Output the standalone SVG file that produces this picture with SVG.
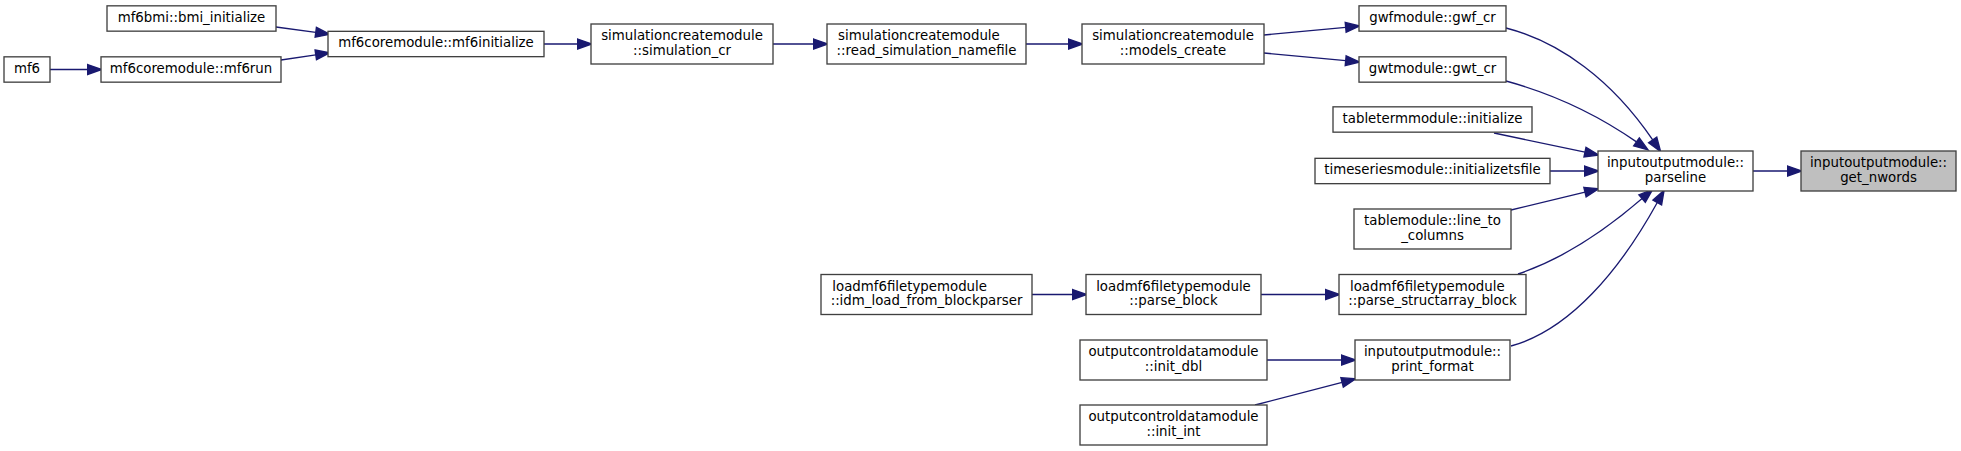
<svg xmlns="http://www.w3.org/2000/svg" width="1961" height="451" viewBox="0 0 1961 451">
<style>
.n rect{fill:#ffffff;stroke:#404040;stroke-width:1.33}
.n.hl rect{fill:#bfbfbf}
.n text{font-family:"DejaVu Sans",sans-serif;font-size:13.33px;fill:#000000}
.m{text-anchor:middle}
.s{text-anchor:start}
.e path{fill:none;stroke:#191970;stroke-width:1.33;marker-end:url(#ah)}
</style>
<defs>
<marker id="ah" markerUnits="userSpaceOnUse" markerWidth="14" markerHeight="10" refX="0" refY="4.67" orient="auto" viewBox="0 0 13.33 9.33" overflow="visible">
<path d="M0,0 L13.33,4.67 L0,9.33 z" fill="#191970" stroke="#191970" stroke-width="1.33"/>
</marker>
</defs>
<rect width="1961" height="451" fill="#ffffff"/>
<g id="edges" class="e">
<path d="M50,69.5 L87.7,69.5"/>
<path d="M276,27 L315.8,32.3"/>
<path d="M281,60 L315.8,54.9"/>
<path d="M544,44 L577.7,44"/>
<path d="M773,44 L813.7,44"/>
<path d="M1026,44 L1068.7,44"/>
<path d="M1264,35 L1345.7,27.3"/>
<path d="M1264,53 L1345.7,60.7"/>
<path d="M1506,28 C1560,42 1612,80 1652.7,139.9"/>
<path d="M1506,81 C1550,93 1595,113 1636.5,141.9"/>
<path d="M1494,133 L1585,152.2"/>
<path d="M1550,171 L1584.7,171"/>
<path d="M1511,210 L1585,192.1"/>
<path d="M1518,274 C1560,260 1600,235 1642.1,198.6"/>
<path d="M1511,346 C1570,330 1620,270 1657.3,202.5"/>
<path d="M1753,171 L1787.7,171"/>
<path d="M1032,294.5 L1072.7,294.5"/>
<path d="M1261,294.5 L1325.7,294.5"/>
<path d="M1267,360 L1341.7,360"/>
<path d="M1255,405 L1342.1,382.4"/>
</g>
<g id="node_mf6" class="n"><rect x="4" y="56.83" width="46" height="25.33"/><text class="m" x="27" y="72.8">mf6</text></g>
<g id="node_bmi_initialize" class="n"><rect x="107" y="5.83" width="169" height="25.33"/><text class="m" x="191.5" y="21.8">mf6bmi::bmi_initialize</text></g>
<g id="node_mf6run" class="n"><rect x="101" y="56.83" width="180" height="25.33"/><text class="m" x="191" y="72.8">mf6coremodule::mf6run</text></g>
<g id="node_mf6initialize" class="n"><rect x="328" y="31.33" width="216" height="25.33"/><text class="m" x="436" y="47.3">mf6coremodule::mf6initialize</text></g>
<g id="node_simulation_cr" class="n"><rect x="591" y="24" width="182" height="40"/><text class="m" x="682" y="40">simulationcreatemodule</text><text class="m" x="682" y="54.67">::simulation_cr</text></g>
<g id="node_read_simulation_namefile" class="n"><rect x="827" y="24" width="199" height="40"/><text class="s" x="838" y="40">simulationcreatemodule</text><text class="m" x="926.5" y="54.67">::read_simulation_namefile</text></g>
<g id="node_models_create" class="n"><rect x="1082" y="24" width="182" height="40"/><text class="m" x="1173" y="40">simulationcreatemodule</text><text class="m" x="1173" y="54.67">::models_create</text></g>
<g id="node_gwf_cr" class="n"><rect x="1359" y="5.83" width="147" height="25.33"/><text class="m" x="1432.5" y="21.8">gwfmodule::gwf_cr</text></g>
<g id="node_gwt_cr" class="n"><rect x="1359" y="56.83" width="147" height="25.33"/><text class="m" x="1432.5" y="72.8">gwtmodule::gwt_cr</text></g>
<g id="node_tableterm_initialize" class="n"><rect x="1333" y="106.83" width="199" height="25.33"/><text class="m" x="1432.5" y="122.8">tabletermmodule::initialize</text></g>
<g id="node_initializetsfile" class="n"><rect x="1315" y="158.33" width="235" height="25.33"/><text class="m" x="1432.5" y="174.3">timeseriesmodule::initializetsfile</text></g>
<g id="node_line_to_columns" class="n"><rect x="1354" y="209" width="157" height="40"/><text class="m" x="1432.5" y="225">tablemodule::line_to</text><text class="m" x="1432.5" y="239.67">_columns</text></g>
<g id="node_parse_structarray_block" class="n"><rect x="1339" y="274.5" width="187" height="40"/><text class="s" x="1350" y="290.5">loadmf6filetypemodule</text><text class="m" x="1432.5" y="305.17">::parse_structarray_block</text></g>
<g id="node_print_format" class="n"><rect x="1355" y="340" width="155" height="40"/><text class="m" x="1432.5" y="356">inputoutputmodule::</text><text class="m" x="1432.5" y="370.67">print_format</text></g>
<g id="node_idm_load_from_blockparser" class="n"><rect x="821" y="274.5" width="211" height="40"/><text class="s" x="832.3" y="290.5">loadmf6filetypemodule</text><text class="m" x="926.5" y="305.17">::idm_load_from_blockparser</text></g>
<g id="node_parse_block" class="n"><rect x="1086" y="274.5" width="175" height="40"/><text class="m" x="1173.5" y="290.5">loadmf6filetypemodule</text><text class="m" x="1173.5" y="305.17">::parse_block</text></g>
<g id="node_init_dbl" class="n"><rect x="1080" y="340" width="187" height="40"/><text class="m" x="1173.5" y="356">outputcontroldatamodule</text><text class="m" x="1173.5" y="370.67">::init_dbl</text></g>
<g id="node_init_int" class="n"><rect x="1080" y="405" width="187" height="40"/><text class="m" x="1173.5" y="421">outputcontroldatamodule</text><text class="m" x="1173.5" y="435.67">::init_int</text></g>
<g id="node_parseline" class="n"><rect x="1598" y="151" width="155" height="40"/><text class="m" x="1675.5" y="167">inputoutputmodule::</text><text class="m" x="1675.5" y="181.67">parseline</text></g>
<g id="node_get_nwords" class="n hl"><rect x="1801" y="151" width="155" height="40"/><text class="m" x="1878.5" y="167">inputoutputmodule::</text><text class="m" x="1878.5" y="181.67">get_nwords</text></g>
</svg>
